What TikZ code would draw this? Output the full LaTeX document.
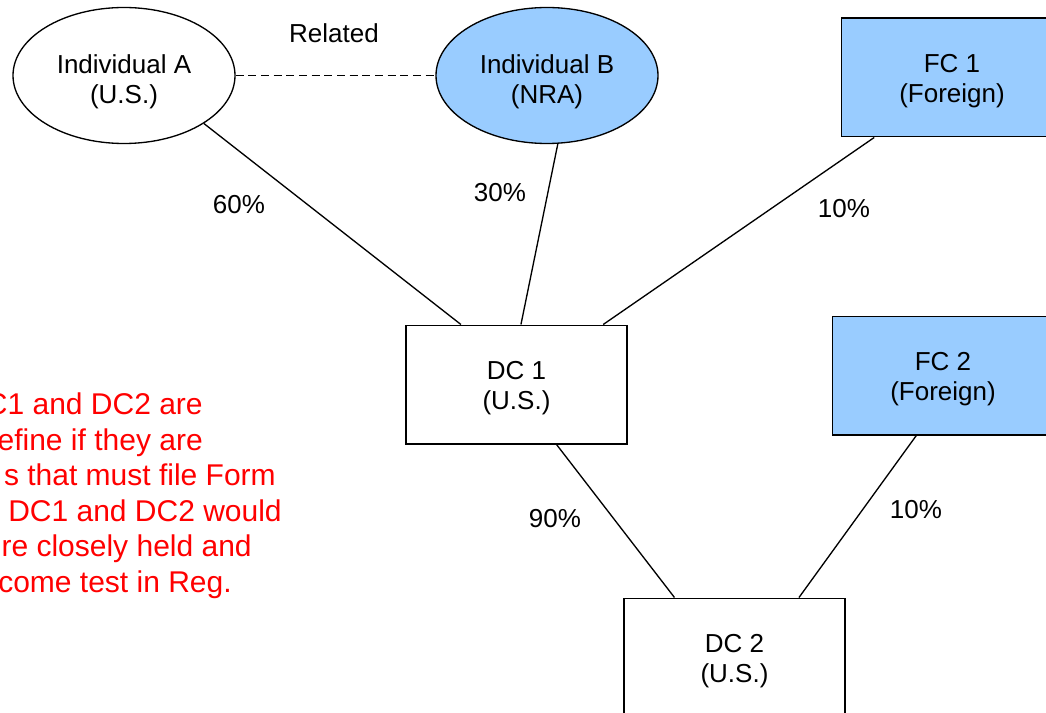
\documentclass[tikz,border=0pt]{standalone}
\usepackage{fontspec}
\setmainfont{Liberation Sans}
\usetikzlibrary{shapes.geometric,calc}
\definecolor{lightblue}{HTML}{99CCFF}
\definecolor{notered}{HTML}{FF0000}
\tikzset{
  txt/.style={font=\fontsize{19.5}{22.5}\selectfont, align=center, inner sep=0pt},
  person/.style={ellipse, draw=black, line width=1pt, inner sep=0pt, minimum width=166.5pt, minimum height=102pt},
  corp/.style={rectangle, draw=black, line width=1pt, inner sep=0pt, minimum width=165.75pt, minimum height=89pt},
  foreign/.style={fill=lightblue},
  link/.style={line width=1pt, draw=black},
  note/.style={font=\fontsize{22.5}{26.7}\selectfont, text=notered, inner sep=0pt, anchor=base east}
}
\begin{document}
\begin{tikzpicture}[x=0.75pt, y=-0.75pt]
\useasboundingbox (0,0) rectangle (1046,713);
\clip (0,0) rectangle (1046,713);
\fill[white] (0,0) rectangle (1046,713);

% shapes
\node[person] (A) at (124,75.5) {};
\node[person, foreign] (B) at (547,75.5) {};
\node[corp, foreign] (FC1) at (952,77.5) {};
\node[corp] (DC1) at (516.5,384.5) {};
\node[corp, foreign] (FC2) at (943,375.5) {};
\node[corp] (DC2) at (734.5,657.5) {};

% texts in shapes
\node[txt] (At) at ($(A.center)+(0,6)$) {Individual A\\(U.S.)};
\node[txt] (Bt) at ($(B.center)+(0,6)$) {Individual B\\(NRA)};
\node[txt] (FC1t) at ($(FC1.center)+(0,4)$) {FC 1\\(Foreign)};
\node[txt] (DC1t) at ($(DC1.center)+(0,4)$) {DC 1\\(U.S.)};
\node[txt] (FC2t) at ($(FC2.center)+(0,4)$) {FC 2\\(Foreign)};
\node[txt] (DC2t) at ($(DC2.center)+(0,4)$) {DC 2\\(U.S.)};

% related
\draw[link, dash pattern=on 6pt off 3.5pt] (A.east) -- (B.west);
\node[txt] (rel) at (334,33) {Related};

% ownership lines
\draw[link] (A.-31) -- ($(DC1.north west)!0.25!(DC1.north east)$);
\draw[link] (B.-81) -- ($(DC1.north west)!0.52!(DC1.north east)$);
\draw[link] ($(FC1.south west)!0.15!(FC1.south east)$) -- ($(DC1.north west)!0.89!(DC1.north east)$);
\draw[link] ($(DC1.south west)!0.68!(DC1.south east)$) -- ($(DC2.north west)!0.23!(DC2.north east)$);
\draw[link] ($(FC2.south west)!0.38!(FC2.south east)$) -- ($(DC2.north west)!0.79!(DC2.north east)$);

\node[txt] (p60) at (239,205) {60\%};
\node[txt] (p30) at (500,193) {30\%};
\node[txt] (p10a) at (844,209) {10\%};
\node[txt] (p90) at (555,519) {90\%};
\node[txt] (p10b) at (916,510) {10\%};

% red note (cut at the left edge)
\node[note] (n1) at (203,414) {DC1 and DC2 are};
\node[note] (n2) at (203,450) {efine if they are};
\node[note] (n3) at (276,485) {s that must file Form};
\node[note] (n4) at (282,521) {DC1 and DC2 would};
\node[note] (n5) at (252,556) {re closely held and};
\node[note] (n6) at (232,592) {come test in Reg.};
\end{tikzpicture}
\end{document}
